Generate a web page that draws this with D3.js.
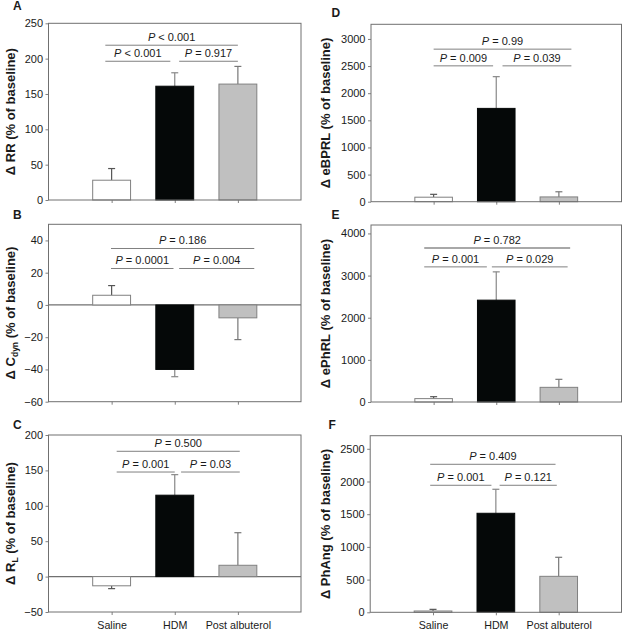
<!DOCTYPE html>
<html><head><meta charset="utf-8">
<script src="https://cdn.jsdelivr.net/npm/d3@7"></script>
<style>
body{margin:0;background:#fff}
svg{display:block}
text{font-family:Arial,"Liberation Sans",sans-serif}
</style></head>
<body><svg id="c" width="623" height="632"></svg>
<script>
// ---------- data ----------
const categories = ["Saline", "HDM", "Post albuterol"];

const rrMean = [28, 161, 164];
const rrSem = [16.5, 19, 25];
const rrTicks = [0, 50, 100, 150, 200, 250];
const rrP = ["P < 0.001", "P < 0.001", "P = 0.917"];        // top, left, right

const cdynMean = [6, -40, -8];
const cdynSem = [6, 4.5, 13.5];
const cdynTicks = [-60, -40, -20, 0, 20, 40];
const cdynP = ["P = 0.186", "P = 0.0001", "P = 0.004"];

const rlMean = [-13, 115, 16];
const rlSem = [4, 29, 46];
const rlTicks = [-50, 0, 50, 100, 150, 200];
const rlP = ["P = 0.500", "P = 0.001", "P = 0.03"];

const ebprlMean = [83, 1720, 88];
const ebprlSem = [53, 585, 95];
const ebprlTicks = [0, 500, 1000, 1500, 2000, 2500, 3000];
const ebprlP = ["P = 0.99", "P = 0.009", "P = 0.039"];

const ephrlMean = [80, 2417, 348];
const ephrlSem = [46, 671, 190];
const ephrlTicks = [0, 1000, 2000, 3000, 4000];
const ephrlP = ["P = 0.782", "P = 0.001", "P = 0.029"];

const phangMean = [20, 1514, 550];
const phangSem = [25, 367, 291];
const phangTicks = [0, 500, 1000, 1500, 2000, 2500];
const phangP = ["P = 0.409", "P = 0.001", "P = 0.121"];

// ---------- layout ----------
const panels = [
  {letter:"A", mean:rrMean, sem:rrSem, ticks:rrTicks, p:rrP, domain:[0,250],
   title:[["Δ RR (% of baseline)"]], box:{l:48.5,r:301,t:23.3,b:200}, lpos:[13,9.5], tx:10.5,
   br:{top:[0.9,3.0,219], left:[0.9,1.93,196.3], right:[2.07,3.0,196.3]}, xlab:false},
  {letter:"B", mean:cdynMean, sem:cdynSem, ticks:cdynTicks, p:cdynP, domain:[-60,50],
   title:[["Δ C"],["dyn","sub"],[" (% of baseline)"]], box:{l:48.5,r:301,t:224.3,b:401.7}, lpos:[13,219], tx:10.5,
   br:{top:[0.99,3.26,35], left:[0.99,1.98,22.6], right:[2.07,3.26,22.6]}, xlab:false, zero:true},
  {letter:"C", mean:rlMean, sem:rlSem, ticks:rlTicks, p:rlP, domain:[-50,200],
   title:[["Δ R"],["L","sub"],[" (% of baseline)"]], box:{l:48.5,r:301,t:435,b:612}, lpos:[13,428.5], tx:10.5,
   br:{top:[1.08,3.03,177], left:[1.08,2.0,147.7], right:[2.1,3.03,147.7]}, xlab:true, zero:true},
  {letter:"D", mean:ebprlMean, sem:ebprlSem, ticks:ebprlTicks, p:ebprlP, domain:[0,3270],
   title:[["Δ eBPRL (% of baseline)"]], box:{l:371,r:621.5,t:24.3,b:201.7}, lpos:[331.5,16.5], tx:325.5,
   br:{top:[1.0,3.2,2812], left:[1.0,1.95,2504], right:[2.1,3.2,2504]}, xlab:false},
  {letter:"E", mean:ephrlMean, sem:ephrlSem, ticks:ephrlTicks, p:ephrlP, domain:[0,4200],
   title:[["Δ ePhRL (% of baseline)"]], box:{l:371,r:621.5,t:225,b:402}, lpos:[331.5,219], tx:325.5,
   br:{top:[0.85,3.18,3656], left:[0.85,1.85,3206], right:[1.93,3.14,3206]}, xlab:false, topStyle:true},
  {letter:"F", mean:phangMean, sem:phangSem, ticks:phangTicks, p:phangP, domain:[0,2700],
   title:[["Δ PhAng (% of baseline)"]], box:{l:370.2,r:621.5,t:435.7,b:612.3}, lpos:[328.5,428.5], tx:325.5,
   br:{top:[0.955,2.95,2263], left:[0.955,1.93,1942], right:[2.06,2.97,1942]}, xlab:true}
];

const fills = ["#ffffff", "#050808", "#c0c0c0"];
const strokes = ["#808080", "#050808", "#808080"];
const errCol = ["#555", "#888", "#777"];
const lineCol = "#808080";
const textCol = "#1a1a1a";
const fmt = d3.format("d");

const svg = d3.select("#c");

panels.forEach(P => {
  const b = P.box;
  const x = d3.scaleLinear().domain([0, 4]).range([b.l, b.r]);
  const y = d3.scaleLinear().domain(P.domain).range([b.b, b.t]);
  const g = svg.append("g");

  // y axis
  const ya = g.append("g").attr("transform", `translate(${b.l},0)`)
    .call(d3.axisLeft(y).tickValues(P.ticks).tickFormat(fmt).tickSize(3).tickPadding(2.5));
  ya.select(".domain").remove();
  ya.selectAll("line").attr("stroke", lineCol);
  ya.selectAll("text").attr("font-size", 11).attr("fill", textCol)
    .attr("font-family", "Arial, 'Liberation Sans', sans-serif");

  // x axis ticks
  const xa = g.append("g").attr("transform", `translate(0,${b.b})`)
    .call(d3.axisBottom(x).tickValues([1, 2, 3]).tickSize(3).tickPadding(6)
      .tickFormat((d, i) => P.xlab ? categories[i] : ""));
  xa.select(".domain").remove();
  xa.selectAll("line").attr("stroke", lineCol);
  xa.selectAll("text").attr("font-size", 10.7).attr("fill", textCol)
    .attr("font-family", "Arial, 'Liberation Sans', sans-serif");

  // zero line
  if (P.zero) {
    g.append("line").attr("x1", b.l).attr("x2", b.r)
      .attr("y1", y(0)).attr("y2", y(0)).attr("stroke", "#707070").attr("stroke-width", 1.2);
  }

  // bars
  const bw = x(0.6) - x(0);
  P.mean.forEach((m, i) => {
    const cx = x(i + 1);
    const y0 = y(0), y1 = y(m);
    const e = m >= 0 ? m + P.sem[i] : m - P.sem[i];
    g.append("line").attr("x1", cx).attr("x2", cx).attr("y1", y1).attr("y2", y(e))
      .attr("stroke", errCol[i]).attr("stroke-width", 1.2);
    g.append("line").attr("x1", cx - 3.5).attr("x2", cx + 3.5).attr("y1", y(e)).attr("y2", y(e))
      .attr("stroke", errCol[i]).attr("stroke-width", 1.2);
    g.append("rect").attr("x", cx - bw / 2).attr("width", bw)
      .attr("y", Math.min(y0, y1)).attr("height", Math.abs(y1 - y0))
      .attr("fill", fills[i]).attr("stroke", strokes[i]).attr("stroke-width", 1);
  });

  // frame
  g.append("rect").attr("x", b.l).attr("y", b.t).attr("width", b.r - b.l).attr("height", b.b - b.t)
    .attr("fill", "none").attr("stroke", "#707070").attr("stroke-width", 1);

  // significance brackets
  const keys = ["top", "left", "right"];
  keys.forEach((k, j) => {
    const [a1, a2, v] = P.br[k];
    const yy = y(v);
    const heavy = P.topStyle && k === "top";
    g.append("line").attr("x1", x(a1)).attr("x2", x(a2)).attr("y1", yy).attr("y2", yy)
      .attr("stroke", heavy ? "#a8a8a8" : lineCol).attr("stroke-width", heavy ? 2 : 1);
    const lab = P.p[j];
    const t = g.append("text").attr("x", (x(a1) + x(a2)) / 2).attr("y", yy - 4)
      .attr("text-anchor", "middle").attr("font-size", 11).attr("fill", textCol);
    t.append("tspan").attr("font-style", "italic").text(lab.slice(0, 1));
    t.append("tspan").text(lab.slice(1));
  });

  // panel letter
  g.append("text").attr("x", P.lpos[0]).attr("y", P.lpos[1]).attr("font-size", 12)
    .attr("font-weight", "bold").attr("fill", textCol).text(P.letter);

  // y title
  const cy = (b.t + b.b) / 2;
  const tt = g.append("text").attr("transform", `translate(${P.tx},${cy}) rotate(-90)`)
    .attr("text-anchor", "middle").attr("dy", "0.35em").attr("font-size", 13)
    .attr("font-weight", "bold").attr("fill", textCol);
  let shift = 0;
  P.title.forEach(part => {
    const ts = tt.append("tspan").text(part[0]);
    if (part[1] === "sub") { ts.attr("font-size", 8.5).attr("dy", 3); shift = 3; }
    else if (shift) { ts.attr("dy", -shift); shift = 0; }
  });
});
</script>
</body></html>
